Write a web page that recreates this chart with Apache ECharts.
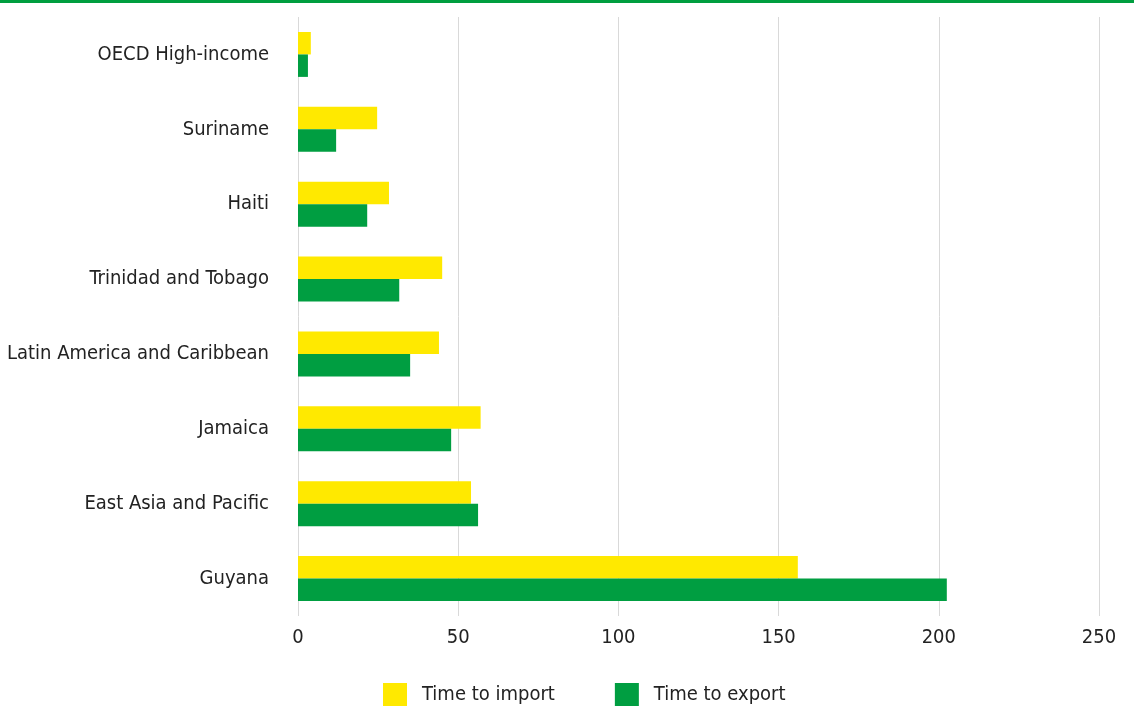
<!DOCTYPE html>
<html><head><meta charset="utf-8">
<script src="https://cdn.jsdelivr.net/npm/echarts@6/dist/echarts.min.js"></script>
<style>html,body{margin:0;padding:0;background:#fff}#c{width:1134px;height:706px}</style>
</head><body><div id="c"></div>
<script>
const categories = ['Guyana','East Asia and Pacific','Jamaica','Latin America and Caribbean','Trinidad and Tobago','Haiti','Suriname','OECD High-income'];
const timeToImport = [156, 54, 57, 44, 45, 28.4, 24.7, 4];
const timeToExport = [202.5, 56.2, 47.8, 35, 31.6, 21.6, 11.9, 3.1];
const xTicks = [0, 50, 100, 150, 200, 250];

function hasFont(name){
  const c = document.createElement('canvas').getContext('2d');
  const s = 'OECD High-income abcdefghij';
  c.font = '40px monospace'; const a = c.measureText(s).width;
  c.font = '40px "' + name + '", monospace'; const b = c.measureText(s).width;
  return Math.abs(a-b) > 0.5;
}
const narrow = hasFont('Liberation Sans Narrow');
const font = narrow ? '"Liberation Sans Narrow", sans-serif' : '"DejaVu Sans Condensed", sans-serif';
const fs = narrow ? 22 : 20;

const chart = echarts.init(document.getElementById('c'));
chart.setOption({
  animation: false,
  graphic: [{type:'rect', shape:{x:0,y:0,width:1134,height:3}, style:{fill:'#009e3f'}}],
  grid: {left: 298, right: 35, top: 17, bottom: 90, containLabel: false, outerBoundsMode: 'none'},
  legend: {
    left: 378, top: 678, itemWidth: 24, itemHeight: 24, itemGap: 60,
    icon: 'rect',
    data: ['Time to import','Time to export'],
    textStyle: {fontFamily: font, fontSize: fs, color: '#222', padding:[0,0,0,10]}
  },
  xAxis: {
    type: 'value', min: 0, max: 250, interval: 50,
    axisLine: {show:false}, axisTick:{show:false},
    splitLine: {show:true, lineStyle:{color:'#d9d9d9', width:1}},
    axisLabel: {fontFamily: font, fontSize: fs, color: '#222', margin: 12,
      formatter: v => xTicks.includes(v) ? String(v) : ''}
  },
  yAxis: {
    type: 'category', data: categories,
    axisLine:{show:false}, axisTick:{show:false},
    axisLabel: {fontFamily: font, fontSize: fs, color: '#222', margin: 29}
  },
  series: [
    {name:'Time to import', type:'bar', data: timeToImport, itemStyle:{color:'#ffe900'}, barGap:'0%', barCategoryGap:'40%'},
    {name:'Time to export', type:'bar', data: timeToExport, itemStyle:{color:'#009e41'}, barGap:'0%', barCategoryGap:'40%'}
  ]
});
</script></body></html>
